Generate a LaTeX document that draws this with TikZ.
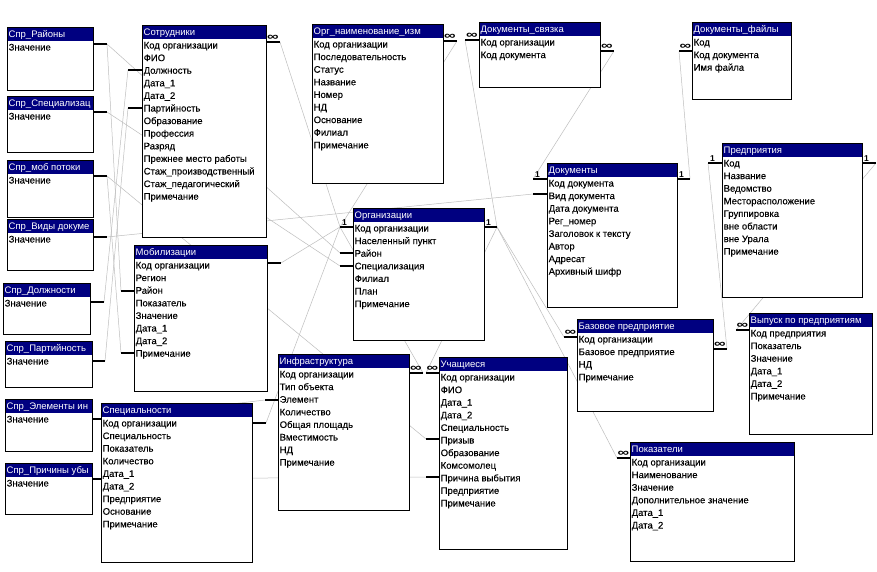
\documentclass[tikz,border=0pt]{standalone}
\usepackage{fontspec}
\setmainfont{Liberation Sans}
\newfontfamily\tblfont{Liberation Sans}[BoldFont={Liberation Sans}, BoldFeatures={FakeBold=0.15}]
\usepackage{graphicx}
\usetikzlibrary{calc}
\definecolor{navy}{RGB}{0,0,128}
\definecolor{relgray}{RGB}{190,190,190}
\tikzset{
  rel/.style={draw=relgray, line width=0.5pt},
  stubline/.style={draw=black, line width=2.4pt},
  tbox/.style={fill=white, inner sep=0pt, outer sep=0pt, anchor=north west},
  tframe/.style={draw=black, line width=0.9pt},
  ttl/.style={font=\tblfont\fontsize{9.5}{10}\selectfont, text=white, anchor=base west, inner sep=0pt},
  fld/.style={font=\tblfont\bfseries\fontsize{9.5}{10}\selectfont, anchor=base west, inner sep=0pt},
  onelbl/.style={font=\bfseries\fontsize{8.5}{8.5}\selectfont, anchor=base west, inner sep=0pt},
  manylbl/.style={font=\bfseries\fontsize{9}{9}\selectfont, anchor=base, inner sep=0pt},
}
% name, x1, y1, x2, y2, title, fields
\newcommand\ertable[7]{%
  \node[tbox, minimum width={(#4-#2)*1pt}, minimum height={(#5-#3)*1pt}] (#1) at (#2,#3) {};
  \fill[navy] (#2,#3) rectangle ({#4},{#3+13.5});
  \begin{scope}
    \clip (#2,#3) rectangle ({#4-1},{#5});
    \node[ttl] (#1-title) at ({#2+1.5},{#3+10.5}) {#6};
    \foreach \f [count=\i] in {#7} {\node[fld] (#1-\i) at ({#2+1.5},{#3+23.5+(\i-1)*12.6}) {\f};}
  \end{scope}
  \draw[tframe] (#2,#3) rectangle (#4,#5);
}
% stub: name, inner x, outer x, y
\newcommand\stubc[4]{\coordinate (#1-in) at (#2,#4); \coordinate (#1) at (#3,#4);}
\newcommand\onel[1]{\node[onelbl] at ([xshift=2pt,yshift=1.6pt]#1) {1};}
\newcommand\manyl[1]{\node[manylbl] at ($(#1)!0.5!(#1-in)+(0,-1.2)$) {\scalebox{1.8}[1.25]{∞}};}
\begin{document}
\begin{tikzpicture}[x=1pt,y=-1pt]
\useasboundingbox (0,0) rectangle (877,571);
\fill[white] (0,0) rectangle (877,571);
% stub coordinates
\stubc{rai}{93}{107}{44}
\stubc{spc}{93}{107}{112}
\stubc{mob}{93}{107}{176}
\stubc{vid}{93}{107}{237}
\stubc{dol}{90}{104}{302}
\stubc{par}{92}{105}{361}
\stubc{el}{92}{106}{419}
\stubc{pr}{92}{106}{479}
\stubc{sotD}{142}{128}{70}
\stubc{sotP}{142}{128}{108}
\stubc{sotO}{266}{280}{42}
\stubc{mobR}{134}{121}{291}
\stubc{mobP}{134}{121}{353}
\stubc{mobO}{267}{281}{263}
\stubc{spcO}{252}{266}{423}
\stubc{infE}{278}{265}{400}
\stubc{infO}{409}{423}{373}
\stubc{uchO}{439}{426}{373}
\stubc{uchP}{439}{426}{439}
\stubc{uchV}{439}{426}{477}
\stubc{orgL}{353}{340}{227}
\stubc{orgR}{484}{497}{227}
\stubc{orgRai}{353}{340}{253}
\stubc{orgSp}{353}{340}{266}
\stubc{onm}{443}{457}{41}
\stubc{dsvL}{479}{465}{40}
\stubc{dsvR}{600}{614}{51}
\stubc{dfl}{692}{679}{51}
\stubc{docL}{547}{533}{179}
\stubc{docV}{547}{533}{194}
\stubc{docR}{677}{690}{179}
\stubc{prL}{722}{708}{163}
\stubc{prR}{862}{876}{163}
\stubc{bazL}{577}{564}{337}
\stubc{bazR}{713}{727}{349}
\stubc{vypL}{749}{736}{330}
\stubc{pokL}{630}{617}{458}
% relationship lines
\draw[rel] (rai) -- (orgRai);
\draw[rel] (rai) -- (mobR);
\draw[rel] (spc) -- (orgSp);
\draw[rel] (mob) -- (uchP);
\draw[rel] (mob) -- (mobP);
\draw[rel] (vid) -- (docV);
\draw[rel] (dol) -- (sotD);
\draw[rel] (par) -- (sotP);
\draw[rel] (el) -- (infE);
\draw[rel] (pr) -- (uchV);
\draw[rel] (sotO) -- (orgL);
\draw[rel] (mobO) -- (orgL);
\draw[rel] (spcO) -- (orgL);
\draw[rel] (infO) -- (orgL);
\draw[rel] (onm) -- (orgL);
\draw[rel] (dsvL) -- (orgR);
\draw[rel] (uchO) -- (orgR);
\draw[rel] (orgR) -- (bazL);
\draw[rel] (orgR) -- (pokL);
\draw[rel] (dsvR) -- (docL);
\draw[rel] (dfl) -- (docR);
\draw[rel] (prL) -- (bazR);
\draw[rel] (prR) -- (vypL);
% stubs
\foreach \s in {rai,spc,mob,vid,dol,par,el,pr,sotD,sotP,sotO,mobR,mobP,mobO,spcO,infE,infO,uchO,uchP,uchV,orgL,orgR,orgRai,orgSp,onm,dsvL,dsvR,dfl,docL,docV,docR,prL,prR,bazL,bazR,vypL,pokL}
  {\draw[stubline] (\s-in) -- (\s);}
% labels
\onel{orgL}
\onel{orgR-in}
\onel{docL}
\onel{docR-in}
\onel{prL}
\onel{prR-in}
\foreach \s in {sotO,onm,dsvL,dsvR,dfl,infO,uchO,bazL,bazR,vypL,pokL} {\manyl{\s}}
% tables
\ertable{sprrai}{7}{27}{93}{90}{Спр\_Районы}{Значение}
\ertable{sprspec}{7}{96}{93}{152}{Спр\_Специализац}{Значение}
\ertable{sprmob}{7}{160}{93}{217}{Спр\_моб потоки}{Значение}
\ertable{sprvid}{7}{219}{93}{270}{Спр\_Виды докуме}{Значение}
\ertable{sprdol}{3}{283}{90}{334}{Спр\_Должности}{Значение}
\ertable{sprpar}{5}{341}{92}{387}{Спр\_Партийность}{Значение}
\ertable{sprel}{5}{399}{92}{451}{Спр\_Элементы ин}{Значение}
\ertable{sprpr}{5}{463}{92}{514}{Спр\_Причины убы}{Значение}
\ertable{sotr}{142}{25}{266}{237}{Сотрудники}{Код организации,ФИО,Должность,Дата\_1,Дата\_2,Партийность,Образование,Профессия,Разряд,Прежнее место работы,Стаж\_производственный,Стаж\_педагогический,Примечание}
\ertable{mobil}{134}{245}{267}{391}{Мобилизации}{Код организации,Регион,Район,Показатель,Значение,Дата\_1,Дата\_2,Примечание}
\ertable{spec}{101}{403}{252}{562}{Специальности}{Код организации,Специальность,Показатель,Количество,Дата\_1,Дата\_2,Предприятие,Основание,Примечание}
\ertable{infr}{278}{354}{409}{510}{Инфраструктура}{Код организации,Тип объекта,Элемент,Количество,Общая площадь,Вместимость,НД,Примечание}
\ertable{uch}{439}{357}{567}{549}{Учащиеся}{Код организации,ФИО,Дата\_1,Дата\_2,Специальность,Призыв,Образование,Комсомолец,Причина выбытия,Предприятие,Примечание}
\ertable{org}{353}{208}{484}{340}{Организации}{Код организации,Населенный пункт,Район,Специализация,Филиал,План,Примечание}
\ertable{orgn}{312}{24}{443}{183}{Орг\_наименование\_изм}{Код организации,Последовательность,Статус,Название,Номер,НД,Основание,Филиал,Примечание}
\ertable{dsv}{479}{22}{600}{87}{Документы\_связка}{Код организации,Код документа}
\ertable{dfil}{692}{22}{791}{99}{Документы\_файлы}{Код,Код документа,Имя файла}
\ertable{doc}{547}{163}{677}{307}{Документы}{Код документа,Вид документа,Дата документа,Рег\_номер,Заголовок к тексту,Автор,Адресат,Архивный шифр}
\ertable{pred}{722}{143}{862}{297}{Предприятия}{Код,Название,Ведомство,Месторасположение,Группировка,вне области,вне Урала,Примечание}
\ertable{baz}{577}{319}{713}{411}{Базовое предприятие}{Код организации,Базовое предприятие,НД,Примечание}
\ertable{vyp}{749}{313}{872}{434}{Выпуск по предприятиям}{Код предприятия,Показатель,Значение,Дата\_1,Дата\_2,Примечание}
\ertable{pok}{630}{442}{794}{561}{Показатели}{Код организации,Наименование,Значение,Дополнительное значение,Дата\_1,Дата\_2}
\end{tikzpicture}
\end{document}
